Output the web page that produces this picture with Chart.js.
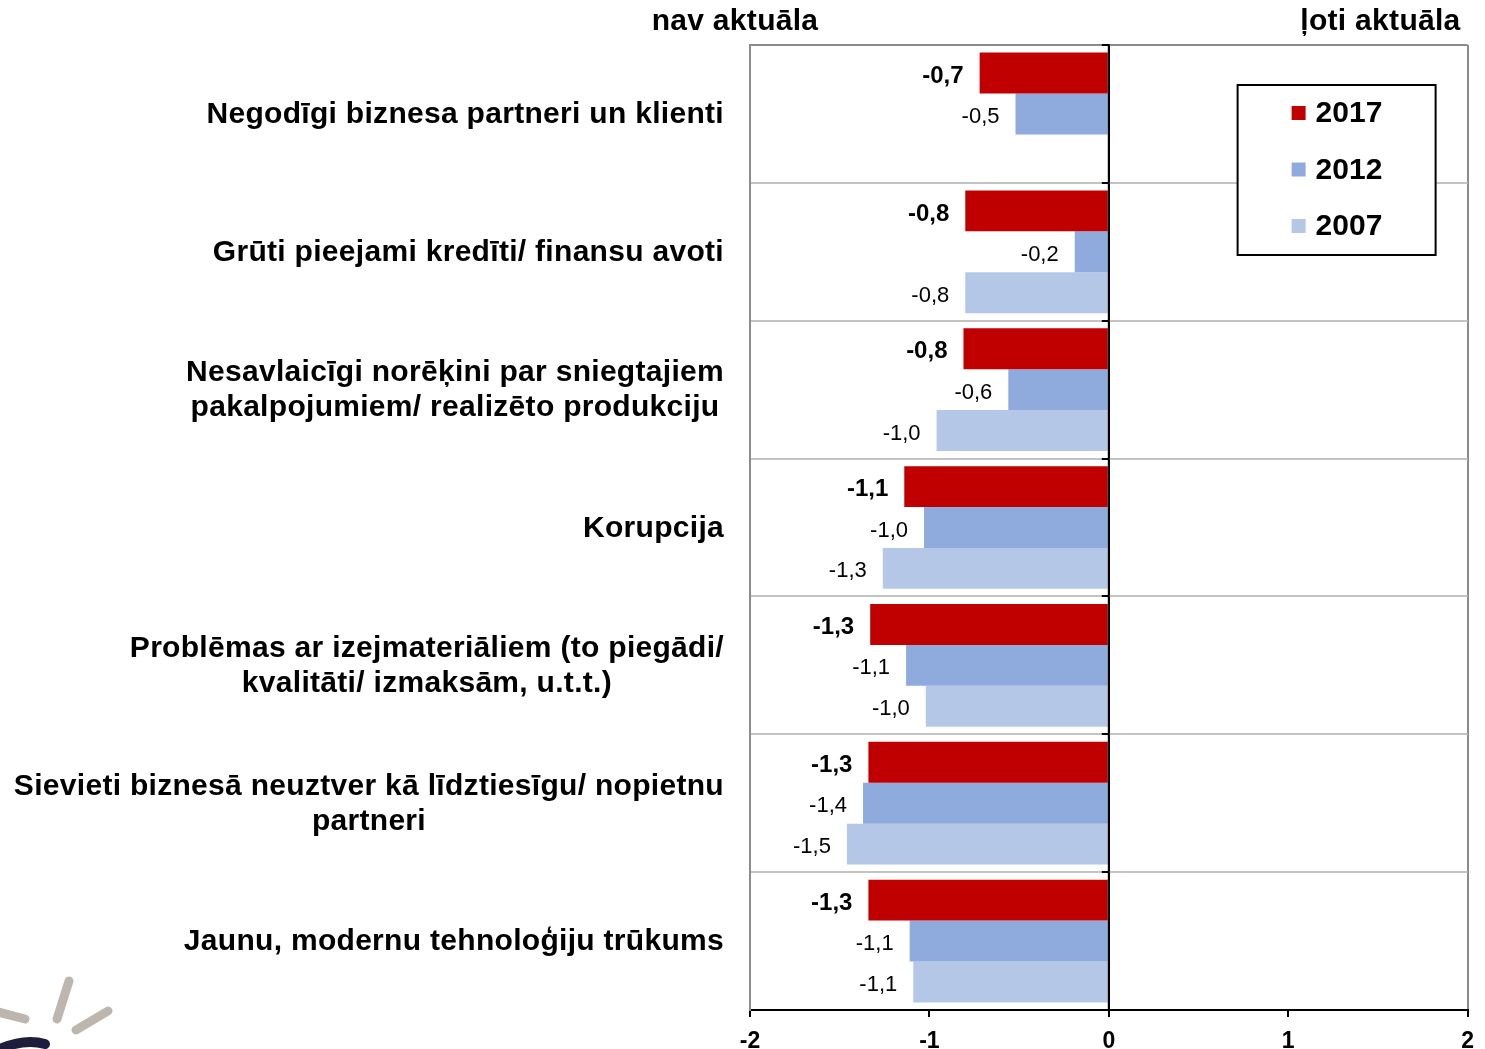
<!DOCTYPE html>
<html>
<head>
<meta charset="utf-8">
<script src="https://cdn.jsdelivr.net/npm/chart.js@4/dist/chart.umd.min.js"></script>
<style>
    html, body { margin: 0; padding: 0; background: #fff; }
    #wrap { width: 1485px; height: 1049px; }
</style>
</head>
<body>
<div id="wrap"><canvas id="problemChart" width="1485" height="1049"></canvas></div>
<script>
// --- Data ---
const categories = [
    ["Negodīgi biznesa partneri un klienti"],
    ["Grūti pieejami kredīti/ finansu avoti"],
    ["Nesavlaicīgi norēķini par sniegtajiem", "pakalpojumiem/ realizēto produkciju"],
    ["Korupcija"],
    ["Problēmas ar izejmateriāliem (to piegādi/", "kvalitāti/ izmaksām, u.t.t.)"],
    ["Sievieti biznesā neuztver kā līdztiesīgu/ nopietnu", "partneri"],
    ["Jaunu, modernu tehnoloģiju trūkums"],
];
const years = ["2017", "2012", "2007"];
const values2017 = [-0.72, -0.80, -0.81, -1.14, -1.33, -1.34, -1.34];
const values2012 = [-0.52, -0.19, -0.56, -1.03, -1.13, -1.37, -1.11];
const values2007 = [null, -0.80, -0.96, -1.26, -1.02, -1.46, -1.09];
const xTicks = [-2, -1, 0, 1, 2];
const leftTitle = "nav aktuāla";
const rightTitle = "ļoti aktuāla";

const colors = ["#C00000", "#8FAADC", "#B4C7E7"];
const FONT = "'Liberation Sans', Arial, sans-serif";
Chart.defaults.font.family = FONT;
Chart.defaults.color = "#000";

function fmt(v) {
    return v.toFixed(1).replace(".", ",");
}

// --- Plugins ---
const decorPlugin = {
    id: "decor",
    afterDatasetsDraw(chart) {
        const { ctx, chartArea: a, scales } = chart;
        const x0 = scales.x.getPixelForValue(0);
        const yScale = scales.y;

        // zero line with small ticks at category boundaries
        ctx.save();
        ctx.strokeStyle = "#000";
        ctx.lineWidth = 2;
        ctx.beginPath();
        ctx.moveTo(x0, a.top - 1);
        ctx.lineTo(x0, a.bottom);
        const step = (a.bottom - a.top) / categories.length;
        for (let i = 0; i < categories.length; i++) {
            const yy = Math.round(a.top + i * step);
            ctx.moveTo(x0 - 7, yy);
            ctx.lineTo(x0, yy);
        }
        ctx.stroke();

        // value labels
        chart.data.datasets.forEach((ds, di) => {
            const meta = chart.getDatasetMeta(di);
            ctx.font = (di === 0 ? "bold 24px " : "22px ") + FONT;
            ctx.fillStyle = "#000";
            ctx.textAlign = "right";
            ctx.textBaseline = "middle";
            meta.data.forEach((el, i) => {
                const v = ds.data[i];
                if (v === null || v === undefined) return;
                const left = Math.min(el.x, el.base);
                ctx.fillText(fmt(v), left - 16, el.y + 3);
            });
        });

        // category labels: block right-aligned, lines centered
        ctx.font = "bold 30px " + FONT;
        ctx.letterSpacing = "0.3px";
        ctx.textAlign = "center";
        ctx.textBaseline = "middle";
        const right = a.left - 26;
        categories.forEach((lines, i) => {
            const yc = yScale.getPixelForTick(i);
            const w = Math.max(...lines.map(l => ctx.measureText(l).width));
            const lh = 35;
            lines.forEach((l, k) => {
                ctx.fillText(l, right - w / 2, yc + 1 + (k - (lines.length - 1) / 2) * lh);
            });
        });

        // titles
        ctx.textAlign = "center";
        ctx.fillText(leftTitle, a.left - 15, 22);
        ctx.textAlign = "right";
        ctx.fillText(rightTitle, a.right - 7, 22);
        ctx.letterSpacing = "0px";

        // legend box
        const bx = a.right - 230, by = a.top + 40, bw = 198, bh = 170;
        ctx.fillStyle = "#fff";
        ctx.fillRect(bx, by, bw, bh);
        ctx.strokeStyle = "#000";
        ctx.lineWidth = 2;
        ctx.strokeRect(bx, by, bw, bh);
        ctx.font = "bold 30px " + FONT;
        ctx.textAlign = "left";
        chart.data.datasets.forEach((ds, di) => {
            const cy = by + 28 + di * 56.5;
            ctx.fillStyle = ds.backgroundColor;
            ctx.fillRect(bx + 54, cy - 7, 14, 14);
            ctx.fillStyle = "#000";
            ctx.fillText(ds.label, bx + 78, cy + 1);
        });

        // logo fragment, bottom left
        ctx.lineCap = "round";
        ctx.strokeStyle = "#BDB6AF";
        ctx.lineWidth = 9;
        ctx.beginPath();
        ctx.moveTo(-2, 1012); ctx.lineTo(25, 1019);
        ctx.moveTo(69, 981); ctx.lineTo(57, 1019);
        ctx.moveTo(108, 1011); ctx.lineTo(76, 1030);
        ctx.stroke();
        ctx.strokeStyle = "#1E1E3C";
        ctx.lineWidth = 10;
        ctx.beginPath();
        ctx.moveTo(0, 1049); ctx.quadraticCurveTo(25, 1038, 45, 1044);
        ctx.stroke();
        ctx.restore();
    },
};

// --- Chart ---
const ctx = document.getElementById("problemChart").getContext("2d");
const problemChart = new Chart(ctx, {
    type: "bar",
    data: {
        labels: categories,
        datasets: [
            { label: years[0], data: values2017, backgroundColor: colors[0] },
            { label: years[1], data: values2012, backgroundColor: colors[1] },
            { label: years[2], data: values2007, backgroundColor: colors[2] },
        ],
    },
    options: {
        indexAxis: "y",
        responsive: false,
        animation: false,
        layout: { padding: { left: 750, right: 17, top: 45, bottom: 0 } },
        datasets: { bar: { categoryPercentage: 0.89, barPercentage: 1.0, borderWidth: 0 } },
        scales: {
            x: {
                min: xTicks[0],
                max: xTicks[xTicks.length - 1],
                afterBuildTicks: s => { s.ticks = xTicks.map(v => ({ value: v })); },
                afterFit: s => { s.height = 39; },
                ticks: {
                    font: { size: 23, weight: "bold" },
                    color: "#000",
                    padding: 11,
                    callback: v => String(v),
                },
                grid: {
                    color: c => c.tick && c.tick.value === 0 ? "#000" :
                        (c.tick && Math.abs(c.tick.value) === 2 ? "#8C8C8C" : "rgba(0,0,0,0)"),
                    lineWidth: 2,
                    tickColor: "#000",
                    tickLength: 7,
                },
                border: { color: "#000", width: 2 },
            },
            y: {
                afterFit: s => { s.width = 0; },
                ticks: { display: false },
                grid: {
                    offset: true,
                    drawTicks: false,
                    color: c => c.index === 0 ? "#8C8C8C" : "#C4C4C4",
                    lineWidth: 2,
                },
                border: { color: "#8C8C8C", width: 2 },
            },
        },
        plugins: {
            legend: { display: false },
            tooltip: { enabled: false },
        },
    },
    plugins: [decorPlugin],
});
</script>
</body>
</html>
